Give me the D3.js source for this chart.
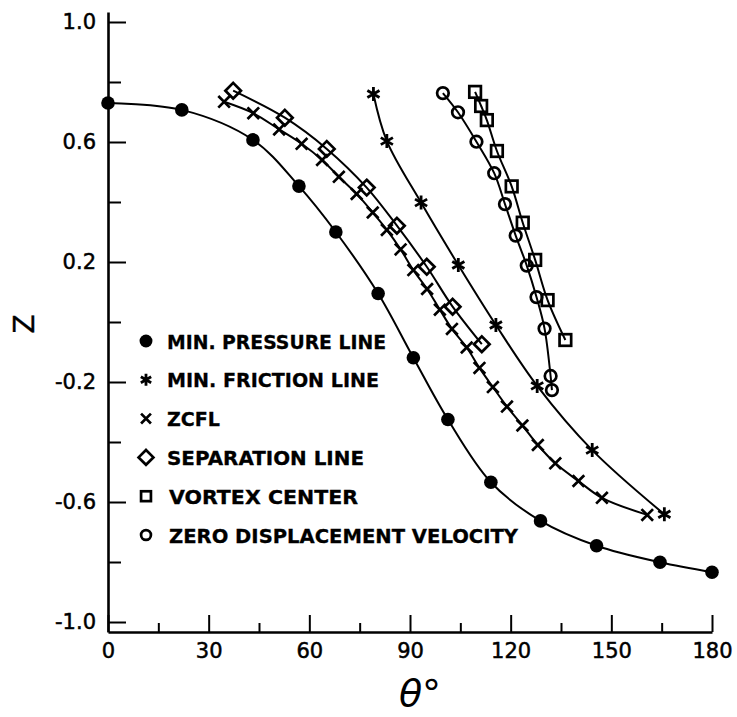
<!DOCTYPE html>
<html>
<head>
<meta charset="utf-8">
<script src="https://cdn.jsdelivr.net/npm/d3@7"></script>
<style>
  html, body { margin: 0; padding: 0; background: #fff; }
  svg { display: block; }
</style>
</head>
<body>
<svg id="chart" width="737" height="717"></svg>
<script>
// Angular position theta (deg) and height Z of the characteristic lines
const minPressureTheta = [0, 22, 43.2, 56.9, 67.9, 80.5, 91, 101.3, 114.1, 128.9, 145.6, 164.5, 180];
const minPressureZ     = [0.73, 0.707, 0.607, 0.453, 0.30, 0.095, -0.119, -0.325, -0.534, -0.663, -0.746, -0.801, -0.834];

const minFrictionTheta = [79.1, 83.1, 93.3, 104.4, 115.6, 127.9, 144.3, 165.8];
const minFrictionZ     = [0.76, 0.603, 0.398, 0.19, -0.01, -0.213, -0.427, -0.641];

const zcflTheta = [34.6, 43.3, 51.0, 57.7, 63.8, 68.8, 74.1, 78.9, 83.1, 87.2, 91.0, 95.1,
                   98.9, 102.5, 106.9, 110.7, 114.7, 118.9, 123.5, 128.1, 133.3, 140.2, 147.2, 160.7];
const zcflZ     = [0.734, 0.696, 0.642, 0.594, 0.54, 0.484, 0.427, 0.365, 0.307, 0.242, 0.173, 0.11,
                   0.041, -0.023, -0.085, -0.153, -0.217, -0.282, -0.345, -0.41, -0.471, -0.53, -0.586, -0.643];

const separationTheta = [37.3, 52.7, 65.2, 77.1, 86.1, 95.0, 102.7, 111.4];
const separationZ     = [0.771, 0.681, 0.577, 0.448, 0.321, 0.184, 0.051, -0.074];

const vortexTheta = [109.4, 111.2, 112.9, 115.9, 120.3, 123.6, 127.3, 131.0, 136.3];
const vortexZ     = [0.767, 0.72, 0.673, 0.57, 0.452, 0.331, 0.207, 0.073, -0.06];

const zdvTheta = [99.8, 104.3, 109.8, 115.1, 118.3, 121.5, 124.8, 127.7, 130.1, 131.9, 132.3];
const zdvZ     = [0.763, 0.699, 0.601, 0.496, 0.393, 0.288, 0.188, 0.083, -0.022, -0.18, -0.227];

const legendLabels = ["MIN. PRESSURE LINE", "MIN. FRICTION LINE", "ZCFL",
                      "SEPARATION LINE", "VORTEX CENTER", "ZERO DISPLACEMENT VELOCITY"];
const markerKinds  = ["dot", "asterisk", "cross", "diamond", "square", "circle"];

const thetaTicks = [0, 30, 60, 90, 120, 150, 180];
const thetaMinorTicks = [15, 45, 75, 105, 135, 165];
const zTicks = [1.0, 0.6, 0.2, -0.2, -0.6, -1.0];
const zMinorTicks = [0.8, 0.4, 0.0, -0.4, -0.8];

const series = [
  { theta: minPressureTheta, z: minPressureZ, kind: markerKinds[0] },
  { theta: minFrictionTheta, z: minFrictionZ, kind: markerKinds[1] },
  { theta: zcflTheta,        z: zcflZ,        kind: markerKinds[2] },
  { theta: separationTheta,  z: separationZ,  kind: markerKinds[3] },
  { theta: vortexTheta,      z: vortexZ,      kind: markerKinds[4] },
  { theta: zdvTheta,         z: zdvZ,         kind: markerKinds[5] }
].map(s => ({ kind: s.kind, pts: s.theta.map((t, i) => [t, s.z[i]]) }));

const svg = d3.select("#chart");
const x = d3.scaleLinear().domain([0, 180]).range([108, 712]);
const y = d3.scaleLinear().domain([-1.0333, 1.0333]).range([632, 12]);

const tickFont = "DejaVu Sans";

// Y axis: major (labelled) and minor ticks pointing into the plot
const yAxis = svg.append("g").attr("transform", `translate(${x(0)},0)`)
  .call(d3.axisLeft(y).tickValues(zTicks).tickSizeInner(-18).tickSizeOuter(0)
        .tickPadding(12).tickFormat(d => d.toFixed(1)));
yAxis.attr("font-family", tickFont).attr("font-size", 21);
yAxis.select(".domain").attr("stroke-width", 2.6);
yAxis.selectAll(".tick line").attr("stroke-width", 2);
yAxis.selectAll(".tick text").attr("fill", "#000").attr("stroke", "#000").attr("stroke-width", 0.5);

const yMinor = svg.append("g").attr("transform", `translate(${x(0)},0)`)
  .call(d3.axisLeft(y).tickValues(zMinorTicks).tickSizeInner(-13).tickSizeOuter(0).tickFormat(""));
yMinor.select(".domain").remove();
yMinor.selectAll(".tick line").attr("stroke-width", 2);

// X axis
const xAxis = svg.append("g").attr("transform", `translate(0,${y.range()[0]})`)
  .call(d3.axisBottom(x).tickValues(thetaTicks).tickSizeInner(-17).tickSizeOuter(0).tickPadding(11));
xAxis.attr("font-family", tickFont).attr("font-size", 21);
xAxis.select(".domain").attr("stroke-width", 2.6);
xAxis.selectAll(".tick line").attr("stroke-width", 2);
xAxis.selectAll(".tick text").attr("fill", "#000").attr("stroke", "#000").attr("stroke-width", 0.5);

const xMinor = svg.append("g").attr("transform", `translate(0,${y.range()[0]})`)
  .call(d3.axisBottom(x).tickValues(thetaMinorTicks).tickSizeInner(-9).tickSizeOuter(0).tickFormat(""));
xMinor.select(".domain").remove();
xMinor.selectAll(".tick line").attr("stroke-width", 2);

// Axis titles
svg.append("text")
  .attr("transform", "translate(24,324) rotate(-90)")
  .attr("text-anchor", "middle").attr("dominant-baseline", "central")
  .attr("font-family", tickFont).attr("font-size", 28)
  .attr("stroke", "#000").attr("stroke-width", 0.4).text("Z");

svg.append("text")
  .attr("x", 420).attr("y", 706).attr("text-anchor", "middle")
  .attr("font-family", tickFont).attr("font-style", "italic").attr("font-size", 38)
  .text("θ°");

// Marker drawing
function drawMarker(g, kind, cx, cy, s) {
  const k = s || 1;
  if (kind === "dot") {
    g.append("circle").attr("cx", cx).attr("cy", cy).attr("r", 6.8 * k).attr("fill", "#000");
  } else if (kind === "circle") {
    g.append("circle").attr("cx", cx).attr("cy", cy).attr("r", 5.8 * k)
      .attr("fill", "none").attr("stroke", "#000").attr("stroke-width", 2.7);
  } else if (kind === "square") {
    const h = 5.8 * k;
    g.append("rect").attr("x", cx - h).attr("y", cy - h).attr("width", 2 * h).attr("height", 2 * h)
      .attr("fill", "none").attr("stroke", "#000").attr("stroke-width", 2.7);
  } else if (kind === "diamond") {
    const h = 7.8 * k;
    g.append("path").attr("d", `M${cx},${cy - h}L${cx + h},${cy}L${cx},${cy + h}L${cx - h},${cy}Z`)
      .attr("fill", "none").attr("stroke", "#000").attr("stroke-width", 2.7);
  } else if (kind === "cross") {
    const h = 5.8 * k;
    g.append("path").attr("d", `M${cx - h},${cy - h}L${cx + h},${cy + h}M${cx - h},${cy + h}L${cx + h},${cy - h}`)
      .attr("stroke", "#000").attr("stroke-width", 2.7).attr("fill", "none");
  } else if (kind === "asterisk") {
    const h = 7 * k;
    let d = "";
    [90, 30, 150].forEach(a => {
      const r = a * Math.PI / 180, dx = Math.cos(r) * h, dy = Math.sin(r) * h;
      d += `M${cx - dx},${cy - dy}L${cx + dx},${cy + dy}`;
    });
    g.append("path").attr("d", d).attr("stroke", "#000").attr("stroke-width", 2.8).attr("fill", "none");
  }
}

// Curves and markers
const line = d3.line().x(d => x(d[0])).y(d => y(d[1])).curve(d3.curveCatmullRom.alpha(0.5));
const plot = svg.append("g");
series.forEach(s => {
  plot.append("path").attr("d", line(s.pts))
    .attr("fill", "none").attr("stroke", "#000").attr("stroke-width", 2);
});
series.forEach(s => {
  const g = plot.append("g");
  s.pts.forEach(p => drawMarker(g, s.kind, x(p[0]), y(p[1])));
});

// Legend
const legendWidths = [219, 212, 53, 197, 189, 349];
const legend = svg.append("g");
legendLabels.forEach((label, i) => {
  const ly = 341 + i * 38.8;
  const scale = markerKinds[i] === "diamond" ? 0.95 : (markerKinds[i] === "dot" ? 0.95 : 0.85);
  drawMarker(legend, markerKinds[i], 146, ly, scale);
  legend.append("text")
    .attr("x", markerKinds[i] === "square" || markerKinds[i] === "circle" ? 169 : 167)
    .attr("y", ly + 7.5)
    .attr("font-family", "DejaVu Sans").attr("font-weight", "bold").attr("font-size", 20)
    .attr("stroke", "#000").attr("stroke-width", 0.3)
    .attr("textLength", legendWidths[i]).attr("lengthAdjust", "spacingAndGlyphs")
    .text(label);
});
</script>
</body>
</html>
